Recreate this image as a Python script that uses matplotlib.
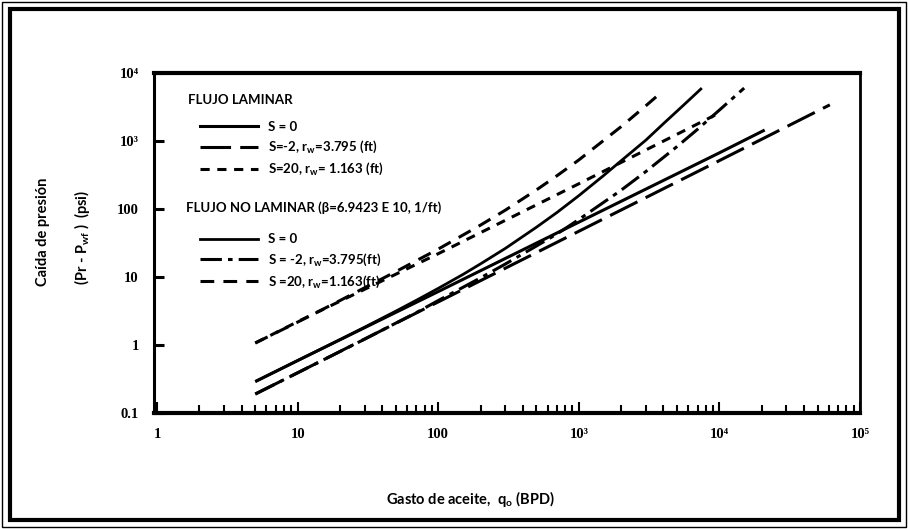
import numpy as np
import matplotlib
matplotlib.use("Agg")
import matplotlib.pyplot as plt
from matplotlib.lines import Line2D
from matplotlib.patches import Rectangle
from matplotlib.ticker import LogLocator, NullFormatter, FixedLocator

# caudal (BPD) vs caida de presion (psi)
q_lam_s0 = [5, 10, 100, 1000, 10000, 21000]
dp_lam_s0 = [0.29, 0.59, 6.1, 64, 670, 1450]

q_lam_sm2 = [5, 10, 100, 1000, 10000, 61000]
dp_lam_sm2 = [0.19, 0.39, 4.3, 47, 515, 3400]

q_lam_s20 = [5, 10, 100, 1000, 9300]
dp_lam_s20 = [1.07, 2.2, 22, 235, 2400]

q_nl_s0 = [5, 10, 20, 30, 50, 70, 100, 150, 200, 300, 500, 700, 1000,
           1500, 2000, 3000, 4000, 5000, 6000, 7500]
dp_nl_s0 = [0.29, 0.59, 1.2, 1.83, 3.15, 4.55, 6.8, 10.9, 15.6, 26.3, 54, 89,
            157, 310, 512, 1030, 1800, 2750, 3900, 6000]

q_nl_sm2 = [5, 10, 20, 30, 50, 70, 100, 200, 300, 500, 700, 1000, 2000,
            3000, 5000, 7000, 10000, 15000]
dp_nl_sm2 = [0.19, 0.39, 0.8, 1.22, 2.1, 3.0, 4.5, 9.7, 15.5, 28.6, 43, 70,
             189, 356, 830, 1490, 2850, 6000]

q_nl_s20 = [5, 10, 20, 30, 50, 70, 100, 200, 300, 500, 700, 1000, 2000,
            3000, 3900]
dp_nl_s20 = [1.07, 2.17, 4.5, 6.95, 12, 17.4, 25.7, 58, 96, 191, 309, 526,
             1626, 3300, 5280]

x_ticks = [1, 10, 100, 1e3, 1e4, 1e5]
x_tick_labels = ["1", "10", "100", "10\u00b3", "10\u2074", "10\u2075"]
y_ticks = [0.1, 1, 10, 100, 1e3, 1e4]
y_tick_labels = ["0.1", "1", "10", "100", "10\u00b3", "10\u2074"]

lam_labels = ["S = 0", "S=-2, r$_w$=3.795 (ft)", "S=20, r$_w$= 1.163 (ft)"]
nl_labels = ["S = 0", "S = -2, r$_w$=3.795(ft)", "S =20, r$_w$=1.163(ft)"]

plt.rcParams["mathtext.default"] = "regular"

lam_styles = [dict(ls="-", lw=2.2),
              dict(ls=(0, (10, 3)), lw=2.2),
              dict(ls=(0, (3, 2.5)), lw=2.2)]
nl_styles = [dict(ls="-", lw=2.0),
             dict(ls=(0, (7, 2, 1.5, 2)), lw=2.2),
             dict(ls=(0, (4.5, 3)), lw=2.2)]

fig = plt.figure(figsize=(9.08, 5.29), dpi=100)
ax = fig.add_axes([154 / 908, 1 - 413 / 529, 706 / 908, 340 / 529])

for q, dp, st in zip([q_lam_s0, q_lam_sm2, q_lam_s20],
                     [dp_lam_s0, dp_lam_sm2, dp_lam_s20], lam_styles):
    ax.plot(q, dp, color="black", solid_capstyle="butt", **st)
for q, dp, st in zip([q_nl_s0, q_nl_sm2, q_nl_s20],
                     [dp_nl_s0, dp_nl_sm2, dp_nl_s20], nl_styles):
    ax.plot(q, dp, color="black", solid_capstyle="butt", **st)

ax.set_xscale("log")
ax.set_yscale("log")
ax.set_xlim(0.952, 1e5)
ax.set_ylim(0.1, 1e4)

tick_font = dict(family=["Liberation Serif", "DejaVu Serif"], size=10.5, weight="bold")
ax.xaxis.set_major_locator(FixedLocator(x_ticks))
ax.set_xticklabels(x_tick_labels, **tick_font)
ax.xaxis.set_minor_locator(LogLocator(base=10, subs=np.arange(2, 10), numticks=20))
ax.xaxis.set_minor_formatter(NullFormatter())
ax.yaxis.set_major_locator(FixedLocator(y_ticks))
ax.set_yticklabels(y_tick_labels, **tick_font)
ax.yaxis.set_minor_locator(FixedLocator([]))

ax.tick_params(axis="x", which="major", direction="in", length=8, width=1.5, pad=11)
ax.tick_params(axis="x", which="minor", direction="in", length=6, width=1.5)
ax.tick_params(axis="y", which="major", direction="in", length=7, width=2.2, pad=11)

for side, w in [("top", 3), ("bottom", 3), ("left", 2.2), ("right", 2)]:
    ax.spines[side].set_linewidth(w)

# leyendas
leg_font = {"family": ["Lato", "DejaVu Sans"], "size": 9.5, "weight": "bold"}
title_font = dict(family=["Lato", "DejaVu Sans"], size=9.5, weight="bold")

ax.text(0.048, 0.92, "FLUJO LAMINAR", transform=ax.transAxes,
        ha="left", va="center", **title_font)
ax.text(0.046, 0.603, "FLUJO NO LAMINAR (\u03b2=6.9423 E 10, 1/ft)",
        transform=ax.transAxes, ha="left", va="center", **title_font)

h1 = [Line2D([], [], color="black", **st) for st in lam_styles]
leg1 = ax.legend(h1, lam_labels, loc="upper left", bbox_to_anchor=(0.058, 0.874),
                 frameon=False, prop=leg_font, borderaxespad=0, borderpad=0.4,
                 handlelength=4.4, handletextpad=0.75, labelspacing=0.45)
ax.add_artist(leg1)

h2 = [Line2D([], [], color="black", **st) for st in nl_styles]
leg2 = ax.legend(h2, nl_labels, loc="upper left", bbox_to_anchor=(0.058, 0.544),
                 frameon=False, prop=leg_font, borderaxespad=0, borderpad=0.4,
                 handlelength=4.4, handletextpad=0.75, labelspacing=0.45)

# titulos de ejes
lab_font = dict(family=["Lato", "DejaVu Sans"], weight="bold")
fig.text(43 / 908, 1 - 232 / 529, "Caída de presión", rotation=90,
         ha="center", va="center", size=10.5, **lab_font)
fig.text(82 / 908, 1 - 237 / 529, "(Pr - P$_{wf}$ )  (psi)", rotation=90,
         ha="center", va="center", size=10.5, **lab_font)
fig.text(470 / 908, 1 - 499 / 529, "Gasto de aceite,  q$_o$ (BPD)",
         ha="center", va="center", size=10.5, **lab_font)

# marco doble
fig.add_artist(Rectangle((2 / 908, 2 / 529), 904 / 908, 525 / 529,
                         transform=fig.transFigure, fill=False, lw=1, ec="black"))
fig.add_artist(Rectangle((10 / 908, 9 / 529), 889 / 908, 511 / 529,
                         transform=fig.transFigure, fill=False, lw=3, ec="black"))

fig.savefig("out.png", dpi=100)
